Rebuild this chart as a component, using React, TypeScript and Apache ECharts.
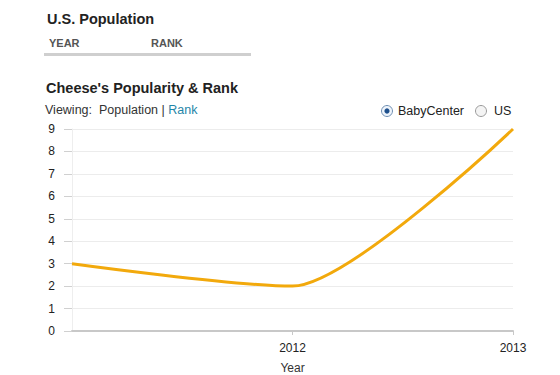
import React, { useEffect, useRef } from "react";
import * as echarts from "echarts";

const years = [2011, 2012, 2013];
const rankValues = [3, 2, 9];
const xTickLabels = [2012, 2013];
const yTicks = [0, 1, 2, 3, 4, 5, 6, 7, 8, 9];

const FONT = "'Liberation Sans', Arial, Helvetica, sans-serif";

export default function App() {
  const ref = useRef<HTMLDivElement>(null);
  useEffect(() => {
    if (!ref.current) return;
    const chart = echarts.init(ref.current, null, { renderer: "svg" });
    chart.setOption({
      animation: false,
      backgroundColor: "#ffffff",
      textStyle: { fontFamily: FONT },
      grid: { left: 72, right: 47, top: 129, bottom: 44, containLabel: false, outerBoundsMode: "none" },
      xAxis: {
        type: "value",
        min: years[0],
        max: years[years.length - 1],
        interval: 1,
        name: "Year",
        nameLocation: "middle",
        nameGap: 31,
        nameTextStyle: { color: "#333", fontSize: 12, fontFamily: FONT },
        axisLine: { show: true, lineStyle: { color: "#c8c8c8", width: 2 } },
        axisTick: { show: true, length: 4, customValues: xTickLabels, lineStyle: { color: "#c8c8c8" } },
        axisLabel: {
          customValues: xTickLabels,
          color: "#222",
          fontSize: 12,
          margin: 11,
          fontFamily: FONT,
          formatter: (v: number) => String(v),
        },
        splitLine: { show: false },
      },
      yAxis: {
        type: "value",
        min: yTicks[0],
        max: yTicks[yTicks.length - 1],
        interval: 1,
        axisLine: { show: true, lineStyle: { color: "#eeeeee", width: 1 } },
        axisTick: { show: true, length: 8, lineStyle: { color: "#d0d0d0" } },
        axisLabel: { color: "#222", fontSize: 12, margin: 17, fontFamily: FONT },
        splitLine: { show: true, lineStyle: { color: "#ececec", width: 1 } },
      },
      series: [
        {
          type: "line",
          data: years.map((y, i) => [y, rankValues[i]]),
          smooth: 0.25,
          smoothMonotone: "x",
          showSymbol: false,
          symbol: "none",
          lineStyle: { color: "#f2a90c", width: 3 },
          itemStyle: { color: "#f2a90c" },
        },
      ],
      graphic: [
        { type: "text", left: 47, top: 11, style: { text: "U.S. Population", font: `bold 14.5px ${FONT}`, fill: "#222" } },
        { type: "text", left: 49, top: 37, style: { text: "YEAR", font: `bold 11px ${FONT}`, fill: "#555" } },
        { type: "text", left: 151, top: 37, style: { text: "RANK", font: `bold 11px ${FONT}`, fill: "#555" } },
        { type: "rect", shape: { x: 44, y: 53, width: 207, height: 3 }, style: { fill: "#cfcfcf" } },
        { type: "text", left: 46, top: 80, style: { text: "Cheese's Popularity & Rank", font: `bold 14.5px ${FONT}`, fill: "#222" } },
        {
          type: "text",
          left: 45,
          top: 103,
          style: {
            text: "{a|Viewing:  Population | }{b|Rank}",
            font: `12.5px ${FONT}`,
            rich: {
              a: { fill: "#333", fontSize: 12.5, fontFamily: FONT },
              b: { fill: "#1f86a8", fontSize: 12.5, fontFamily: FONT },
            },
          },
        },
        { type: "circle", shape: { cx: 387, cy: 111, r: 5.5 }, style: { fill: "#eef4fb", stroke: "#6f8fb3", lineWidth: 1 } },
        { type: "circle", shape: { cx: 387, cy: 111, r: 2.6 }, style: { fill: "#1d4f8c" } },
        { type: "text", left: 398, top: 104, style: { text: "BabyCenter", font: `12.5px ${FONT}`, fill: "#222" } },
        { type: "circle", shape: { cx: 481, cy: 111, r: 5.5 }, style: { fill: "#f4f4f4", stroke: "#9a9a9a", lineWidth: 1 } },
        { type: "text", left: 494, top: 104, style: { text: "US", font: `12.5px ${FONT}`, fill: "#222" } },
      ],
    });
    return () => chart.dispose();
  }, []);
  return <div ref={ref} style={{ width: 560, height: 375, position: "absolute", left: 0, top: 0 }} />;
}
